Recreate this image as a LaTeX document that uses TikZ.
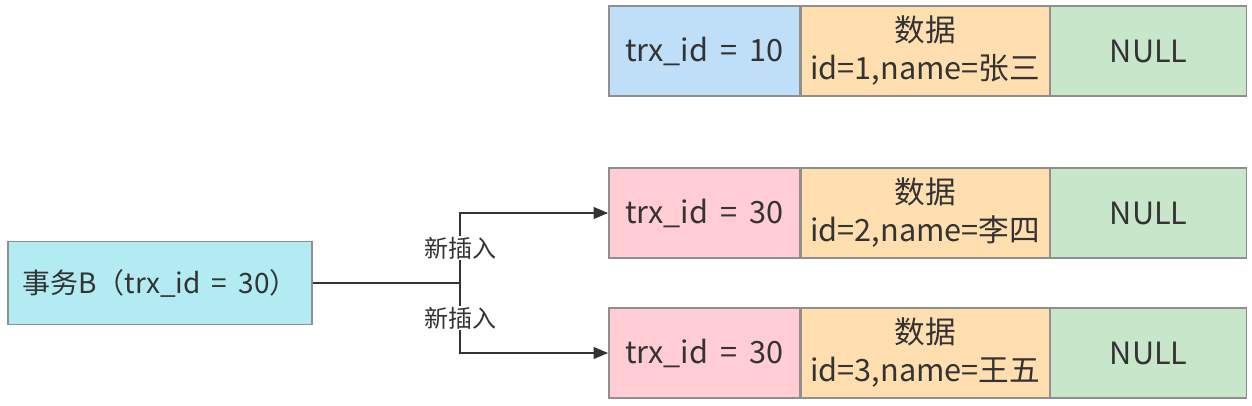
\documentclass[tikz,border=0pt]{standalone}
\usepackage{fontspec}
\setmainfont{Noto Sans CJK SC}
\usetikzlibrary{arrows.meta,positioning}
\definecolor{trxblue}{HTML}{BFDFF8}
\definecolor{trxpink}{HTML}{FFCDD3}
\definecolor{dataorange}{HTML}{FFDFB0}
\definecolor{nullgreen}{HTML}{C8E6C9}
\definecolor{txcyan}{HTML}{B2EBF2}
\definecolor{ink}{HTML}{333333}
\definecolor{edge}{HTML}{8F8F8F}
\newcommand{\eqsp}{\hspace{0.4em}=\hspace{0.4em}}
\begin{document}
\begin{tikzpicture}[x=0.75pt,y=-0.75pt,font=\fontsize{23}{28}\selectfont,
  cell/.style={draw=edge,line width=1pt,text=ink,inner sep=0pt,
    minimum height=67.5pt,align=center},
  idcell/.style={cell,minimum width=143.25pt},
  datacell/.style={cell,fill=dataorange,minimum width=186pt,
    font=\fontsize{23}{28.5}\selectfont},
  nullcell/.style={cell,fill=nullgreen,minimum width=147pt},
  txcell/.style={cell,fill=txcyan,minimum width=228pt,minimum height=62.25pt,
    font=\fontsize{21}{25}\selectfont},
  link/.style={draw=ink,line width=2.2pt},
  tip/.style={-{Triangle[length=11pt,width=8.5pt]}},
  tag/.style={fill=white,text=ink,inner sep=1pt,font=\fontsize{18}{21}\selectfont}]
\useasboundingbox (0,0) rectangle (1252,406);
% record rows
\foreach \r/\y/\c/\t/\d in {A/51/trxblue/10/{id=1,name=张三},
    B/213/trxpink/30/{id=2,name=李四},C/353/trxpink/30/{id=3,name=王五}} {
  \node[idcell,fill=\c] (id\r) at (704.5,\y) {trx\_id\eqsp\t};
  \node[datacell,right=0pt of id\r] (data\r) {数据\\\d};
  \node[nullcell,right=0pt of data\r] (null\r) {NULL};
}
% transaction
\node[txcell] (tx) at (160,283) {事务B（trx\_id\eqsp 30）};
\coordinate (fork) at (460,283);
\draw[link] (tx) -- (fork);
\draw[link,tip] (fork) |- (idB.west) node[tag,pos=0.25] {新插入};
\draw[link,tip] (fork) |- (idC.west) node[tag,pos=0.25] {新插入};
\end{tikzpicture}
\end{document}
